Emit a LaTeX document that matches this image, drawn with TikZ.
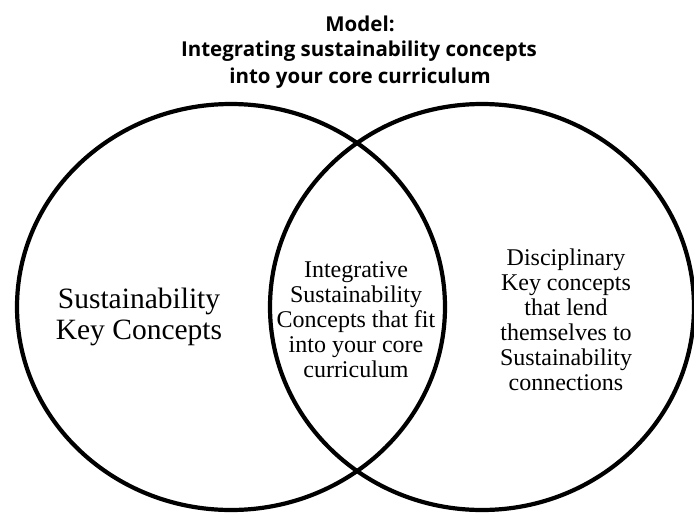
\documentclass[tikz,border=0pt]{standalone}
\usepackage{fontspec}
\setmainfont{Liberation Serif}
\newfontfamily\titlefont{Open Sans}
\begin{document}
\begin{tikzpicture}[x=1pt,y=-1pt,
  setring/.style={draw=black, line width=4.2pt, fill=none},
  heading/.style={font=\titlefont\bfseries\fontsize{20.5}{22}\selectfont, align=center, inner sep=0pt},
  bigtext/.style={font=\fontsize{29.5}{31}\selectfont, align=center, inner sep=0pt},
  settext/.style={font=\fontsize{24}{25}\selectfont, align=center, inner sep=0pt}]
  % canvas
  \useasboundingbox (0,0) rectangle (694,512);
  \fill[white] (0,0) rectangle (694,512);

  % title
  \node[heading] (t1) at (360,24) {Model:};
  \node[heading] (t2) at (359,51) {Integrating sustainability concepts};
  \node[heading] (t3) at (360,78) {into your core curriculum};

  % the two sets
  \draw[setring] (231,307) ellipse [x radius=214, y radius=203];
  \draw[setring] (482,307) ellipse [x radius=212, y radius=203];

  % labels
  \node[bigtext] (left) at (139,317) {Sustainability\\Key Concepts};
  \node[settext] (mid) at (356,320) {Integrative\\Sustainability\\Concepts that fit\\into your core\\curriculum};
  \node[settext] (right) at (566,320) {Disciplinary\\Key concepts\\that lend\\themselves to\\Sustainability\\connections};
\end{tikzpicture}
\end{document}
